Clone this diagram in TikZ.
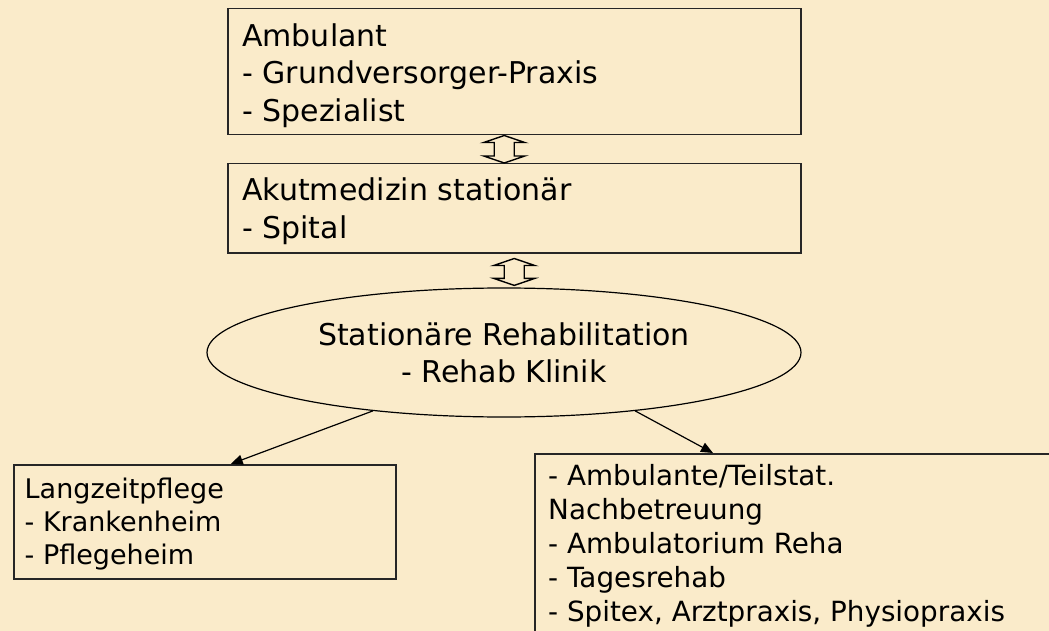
\documentclass[tikz,border=0pt]{standalone}
\usepackage{fontspec}
\setmainfont{DejaVu Sans}
\usetikzlibrary{shapes.geometric,arrows.meta}
\definecolor{parchment}{RGB}{250,235,202}

\newcommand{\blockarrow}[2]{%
    \draw[blockarrow] (#1) -- ++(20.5pt,-7pt) -- ++(-10.5pt,0pt)
        -- ([xshift=10pt,yshift=7pt]#2) -- ++(10.5pt,0pt) -- (#2)
        -- ++(-20.5pt,7pt) -- ++(10.5pt,0pt)
        -- ([xshift=-10pt,yshift=-7pt]#1) -- ++(-10.5pt,0pt) -- cycle;
}

\begin{document}
\begin{tikzpicture}[
        x=1pt, y=-1pt,
        box/.style={rectangle, draw=black!85, line width=1.5pt, anchor=north west, inner sep=0pt},
        txt_big/.style={anchor=north west, inner sep=0pt, align=left, font=\fontsize{30}{37.5}\selectfont},
        txt_small/.style={anchor=north west, inner sep=0pt, align=left, font=\fontsize{27}{33}\selectfont},
        txt_list/.style={anchor=north west, inner sep=0pt, align=left, font=\fontsize{27.8}{34}\selectfont},
        oval/.style={ellipse, draw=black, line width=1.2pt, minimum width=594pt, minimum height=129pt, align=center, font=\fontsize{30}{37}\selectfont},
        link/.style={line width=1.2pt, black, -{Triangle[length=12pt, width=10pt]}},
        blockarrow/.style={line width=1.4pt, black, line join=miter},
    ]

        \useasboundingbox (0,0) rectangle (1049,631);
        \clip (0,0) rectangle (1049,631);
        \fill[parchment] (0,0) rectangle (1049,631);

        \node[box, minimum width=573pt, minimum height=126pt] (amb) at (227,8) {};
        \node[box, minimum width=573pt, minimum height=89pt] (akut) at (227,163) {};
        \node[oval] (reha) at (504,352.5) {Stationäre Rehabilitation\\- Rehab Klinik};
        \node[box, minimum width=382pt, minimum height=114pt] (lang) at (13,464) {};
        \node[box, minimum width=540pt, minimum height=230pt] (nach) at (534,453) {};

        \node[txt_big] (amb_txt) at (242,23.5) {Ambulant\\- Grundversorger-Praxis\\- Spezialist};
        \node[txt_big] (akut_txt) at (242,178) {Akutmedizin stationär\\- Spital};
        \node[txt_small] (lang_txt) at (24.5,477.5) {Langzeitpflege\\- Krankenheim\\- Pflegeheim};
        \node[txt_list] (nach_txt) at (548,464) {- Ambulante/Teilstat.\\Nachbetreuung\\- Ambulatorium Reha\\- Tagesrehab\\- Spitex, Arztpraxis, Physiopraxis};

        \coordinate (up1) at ([xshift=-10pt]amb.south);
        \coordinate (dn1) at ([xshift=-10pt]akut.north);
        \coordinate (up2) at ([yshift=-5pt]akut.south);
        \coordinate (dn2) at ([yshift=2pt]akut.south |- reha.north);
        \blockarrow{up1}{dn1}
        \blockarrow{up2}{dn2}

        \draw[link] (reha.204) -- ([xshift=26pt]lang.north);
        \draw[link] (reha.336) -- ([xshift=179pt]nach.north west);
    \end{tikzpicture}
\end{document}
